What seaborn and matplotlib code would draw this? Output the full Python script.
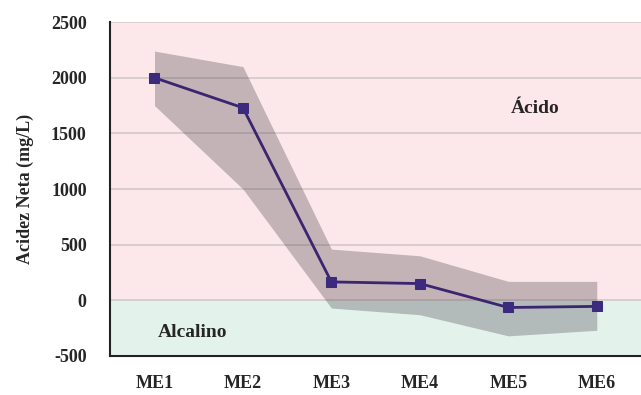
import matplotlib
matplotlib.use('Agg')
import matplotlib.pyplot as plt
import seaborn as sns
import pandas as pd

sitios = ["ME1", "ME2", "ME3", "ME4", "ME5", "ME6"]
acidez = [2000, 1730, 165, 150, -65, -55]
banda_sup = [2240, 2100, 460, 400, 170, 170]
banda_inf = [1750, 1000, -70, -130, -320, -270]

sns.set_style("white")
plt.rcParams['font.family'] = ['Liberation Serif', 'DejaVu Serif']
plt.rcParams['font.weight'] = 'bold'
plt.rcParams['axes.unicode_minus'] = False

df = pd.DataFrame({"sitio": sitios, "acidez": acidez})
x = list(range(len(sitios)))

fig = plt.figure(figsize=(6.41, 3.95), dpi=100)
ax = fig.add_axes([0.172, 0.099, 0.828, 0.845])

# zonas acido / alcalino
ax.axhspan(0, 2500, color='#fce8ea', zorder=0, lw=0)
ax.axhspan(-500, 0, color='#e3f3ec', zorder=0, lw=0)
for yv in range(-500, 2501, 500):
    ax.axhline(yv, color='#d2c8ca', lw=1.2, zorder=1)

ax.fill_between(x, banda_inf, banda_sup, color='#413b43', alpha=0.3, lw=0, zorder=2)

sns.lineplot(data=df, x=x, y="acidez", color='#3b2470', lw=2, marker='s',
             markersize=7, markerfacecolor='#3c2a7e', markeredgecolor='#3c2a7e',
             ax=ax, zorder=3)

ax.set_xlim(-0.5, 5.5)
ax.set_ylim(-500, 2500)
ax.set_yticks(range(-500, 2501, 500))
ax.set_xticks(x)
ax.set_xticklabels(sitios)
ax.set_xticks([i - 0.5 for i in range(len(sitios) + 1)], minor=True)
ax.tick_params(axis='x', which='major', length=0, pad=14, labelsize=13)
ax.tick_params(axis='x', which='minor', length=5, width=1.5, direction='out')
ax.tick_params(axis='y', length=5, width=1.5, direction='out', labelsize=13, pad=12)
for lbl in ax.get_xticklabels() + ax.get_yticklabels():
    lbl.set_fontweight('bold')

ax.set_xlabel("")
ax.set_ylabel("Acidez Neta (mg/L)", fontsize=13, fontweight='bold', labelpad=12)

for s in ['top', 'right']:
    ax.spines[s].set_visible(False)
for s in ['left', 'bottom']:
    ax.spines[s].set_color('#222222')
    ax.spines[s].set_linewidth(1.5)

ax.text(4.3, 1720, "Ácido", fontsize=14, fontweight='bold', ha='center', va='center')
ax.text(0.43, -290, "Alcalino", fontsize=14, fontweight='bold', ha='center', va='center')

fig.savefig("out.png", dpi=100)
plt.close(fig)
